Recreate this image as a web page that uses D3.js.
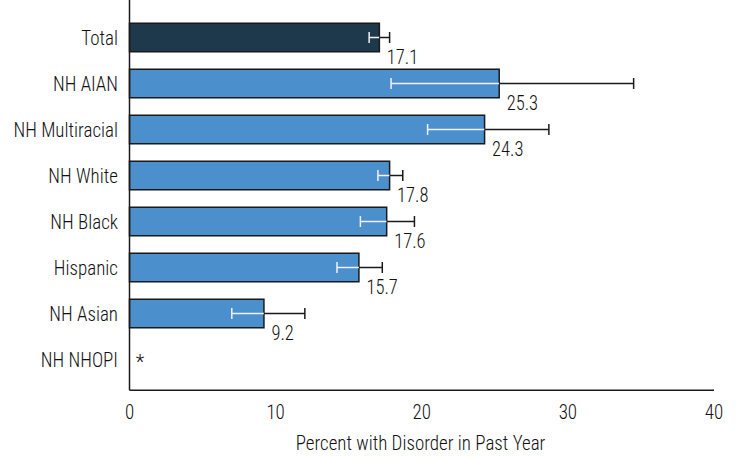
<!DOCTYPE html>
<html>
<head>
<meta charset="utf-8">
<script src="https://cdn.jsdelivr.net/npm/d3@7"></script>
<style>
  html, body { margin: 0; padding: 0; background: #fff; }
  svg { display: block; }
  text { font-family: "Liberation Sans Narrow", "Arial Narrow", "Roboto Condensed", "Liberation Sans", sans-serif; font-weight: 300; fill: #111; }
</style>
</head>
<body>
<svg id="chart" width="736" height="457"></svg>
<script>
const categories = ["Total", "NH AIAN", "NH Multiracial", "NH White", "NH Black", "Hispanic", "NH Asian", "NH NHOPI"];
const values = [17.1, 25.3, 24.3, 17.8, 17.6, 15.7, 9.2, null];
const lowerCI = [16.4, 17.9, 20.4, 17.0, 15.8, 14.2, 7.0, null];
const upperCI = [17.8, 34.5, 28.7, 18.7, 19.5, 17.3, 12.0, null];
const xTicks = [0, 10, 20, 30, 40];
const suppressedMark = "*";
const xTitle = "Percent with Disorder in Past Year";

const data = categories.map((c, i) => ({ cat: c, v: values[i], lo: lowerCI[i], hi: upperCI[i], i }));

const svg = d3.select("#chart");
const x = d3.scaleLinear().domain([0, 40]).range([129.5, 714]);
const y = d3.scaleBand().domain(categories).range([14.5, 382.5]).paddingInner(0.38).paddingOuter(0.19);
const axisY = 390.3;
const sx = 0.95; // horizontal condensing of text

const colorTotal = "#1f394c";
const colorBar = "#4b8fcd";

function condensedText(sel, xf, yf) {
  sel.attr("transform", (d, i) => `translate(${xf(d, i)},${yf(d, i)}) scale(${sx},1)`);
}

// bars
svg.append("g").selectAll("rect").data(data.filter(d => d.v != null)).join("rect")
  .attr("x", x(0))
  .attr("y", d => y(d.cat))
  .attr("width", d => x(d.v) - x(0))
  .attr("height", y.bandwidth())
  .attr("fill", d => d.i === 0 ? colorTotal : colorBar)
  .attr("stroke", "#1a1a1a")
  .attr("stroke-width", 1.5);

// error bars
const eb = svg.append("g").selectAll("g").data(data.filter(d => d.v != null)).join("g");
const capH = 5.5;
const cy = d => y(d.cat) + y.bandwidth() / 2;
eb.append("line")
  .attr("x1", d => x(d.lo)).attr("x2", d => x(d.v))
  .attr("y1", cy).attr("y2", cy)
  .attr("stroke", "#f2f2f2").attr("stroke-width", 1.5);
eb.append("line")
  .attr("x1", d => x(d.lo)).attr("x2", d => x(d.lo))
  .attr("y1", d => cy(d) - capH).attr("y2", d => cy(d) + capH)
  .attr("stroke", "#f2f2f2").attr("stroke-width", 1.5);
eb.append("line")
  .attr("x1", d => x(d.v)).attr("x2", d => x(d.hi))
  .attr("y1", cy).attr("y2", cy)
  .attr("stroke", "#1a1a1a").attr("stroke-width", 1.5);
eb.append("line")
  .attr("x1", d => x(d.hi)).attr("x2", d => x(d.hi))
  .attr("y1", d => cy(d) - capH).attr("y2", d => cy(d) + capH)
  .attr("stroke", "#1a1a1a").attr("stroke-width", 1.5);

// value labels
svg.append("g").selectAll("text").data(data.filter(d => d.v != null)).join("text")
  .call(condensedText, d => x(d.v) + 7.5, d => y(d.cat) + y.bandwidth() + 11.8)
  .attr("font-size", 19.5)
  .text(d => d.v.toFixed(1));

// suppressed marker
svg.append("g").selectAll("text").data(data.filter(d => d.v == null)).join("text")
  .attr("x", x(0) + 10.5)
  .attr("y", d => cy(d) + 9)
  .attr("text-anchor", "middle")
  .attr("font-size", 20)
  .attr("font-weight", 400)
  .text(suppressedMark);

// category labels
svg.append("g").selectAll("text").data(data).join("text")
  .call(condensedText, () => 118, d => cy(d) + 7.2)
  .attr("text-anchor", "end")
  .attr("font-size", 20)
  .text(d => d.cat);

// axes lines
svg.append("line").attr("x1", x(0)).attr("x2", x(0)).attr("y1", 0).attr("y2", axisY)
  .attr("stroke", "#1a1a1a").attr("stroke-width", 1.5);
svg.append("line").attr("x1", x(0)).attr("x2", x(40)).attr("y1", axisY).attr("y2", axisY)
  .attr("stroke", "#1a1a1a").attr("stroke-width", 1.5);

// x tick labels
svg.append("g").selectAll("text").data(xTicks).join("text")
  .call(condensedText, d => x(d), () => 419.3)
  .attr("text-anchor", "middle")
  .attr("font-size", 20)
  .text(d => d);

svg.append("text")
  .call(condensedText, () => 420.5, () => 450)
  .attr("text-anchor", "middle")
  .attr("font-size", 20)
  .text(xTitle);
</script>
</body>
</html>
